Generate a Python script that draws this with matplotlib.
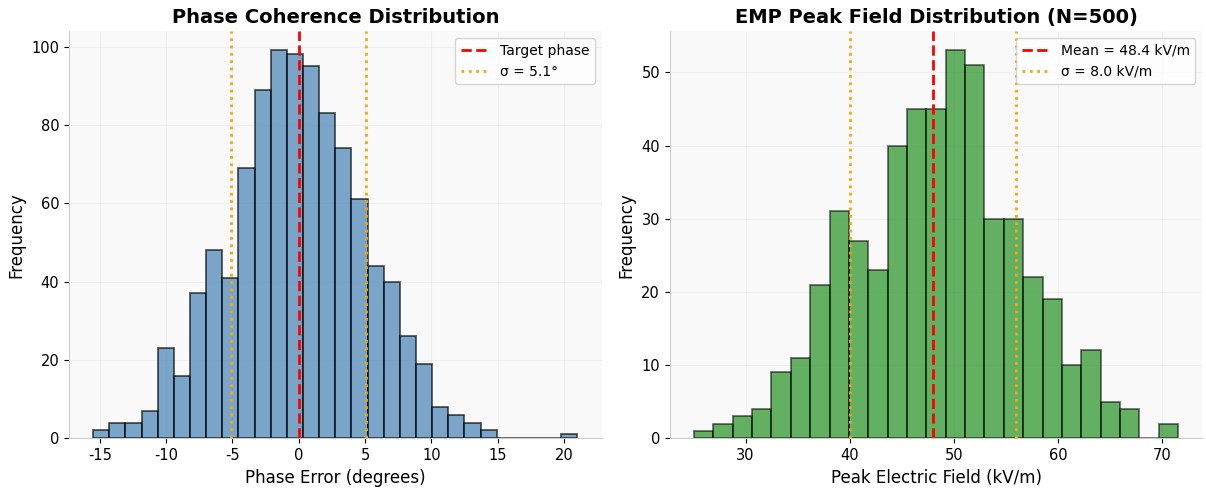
import matplotlib
matplotlib.use("Agg")
import matplotlib.pyplot as plt
import numpy as np

# Phase coherence histogram (30 bins, 1000 samples)
phase_edges = np.linspace(-15.5, 21.0, 31)
phase_counts = [2, 4, 4, 7, 23, 16, 37, 48, 41, 69, 89, 99, 98, 95, 83,
                74, 61, 44, 40, 26, 19, 8, 6, 4, 2, 0, 0, 0, 0, 1]
phase_target = 0.0
phase_sigma = 5.1

# EMP peak field histogram (25 bins, 500 samples)
emp_edges = np.linspace(25.05, 71.55, 26)
emp_counts = [1, 2, 3, 4, 9, 11, 21, 31, 27, 23, 40, 45, 45, 53, 51,
              30, 30, 22, 19, 10, 12, 5, 4, 0, 2]
emp_line = 48.0
emp_mean_label = 48.4
emp_sigma = 8.0

plt.rcParams["axes.unicode_minus"] = False

fig, (ax1, ax2) = plt.subplots(1, 2, figsize=(12.06, 4.93), dpi=100)
fig.subplots_adjust(left=0.0572, right=0.997, top=0.937, bottom=0.111, wspace=0.128)


def style(ax):
    ax.set_facecolor("#f9f9f9")
    for s in ("top", "right"):
        ax.spines[s].set_visible(False)
    for s in ("left", "bottom"):
        ax.spines[s].set_color("#cccccc")
    ax.grid(True, color="#dddddd", alpha=0.35, linewidth=0.8)
    ax.set_axisbelow(True)
    ax.tick_params(labelsize=10.5)


centers = (phase_edges[:-1] + phase_edges[1:]) / 2
ax1.hist(centers, bins=phase_edges, weights=phase_counts, color="steelblue",
         alpha=0.7, edgecolor="black", linewidth=1.2)
ax1.axvline(phase_target, color="red", linestyle="--", linewidth=2,
            label="Target phase")
ax1.axvline(-phase_sigma, color="orange", linestyle=":", linewidth=2,
            label=f"σ = {phase_sigma:.1f}°")
ax1.axvline(phase_sigma, color="orange", linestyle=":", linewidth=2)
ax1.set_title("Phase Coherence Distribution", fontsize=14, fontweight="bold")
ax1.set_xlabel("Phase Error (degrees)", fontsize=12)
ax1.set_ylabel("Frequency", fontsize=12)
ax1.legend(fontsize=10)
style(ax1)

centers = (emp_edges[:-1] + emp_edges[1:]) / 2
ax2.hist(centers, bins=emp_edges, weights=emp_counts, color="green",
         alpha=0.6, edgecolor="black", linewidth=1.2)
ax2.axvline(emp_line, color="red", linestyle="--", linewidth=2,
            label=f"Mean = {emp_mean_label:.1f} kV/m")
ax2.axvline(emp_line - emp_sigma, color="orange", linestyle=":", linewidth=2,
            label=f"σ = {emp_sigma:.1f} kV/m")
ax2.axvline(emp_line + emp_sigma, color="orange", linestyle=":", linewidth=2)
ax2.set_title("EMP Peak Field Distribution (N=500)", fontsize=14, fontweight="bold")
ax2.set_xlabel("Peak Electric Field (kV/m)", fontsize=12)
ax2.set_ylabel("Frequency", fontsize=12)
ax2.legend(fontsize=10)
style(ax2)

fig.savefig("out.png", dpi=100)
